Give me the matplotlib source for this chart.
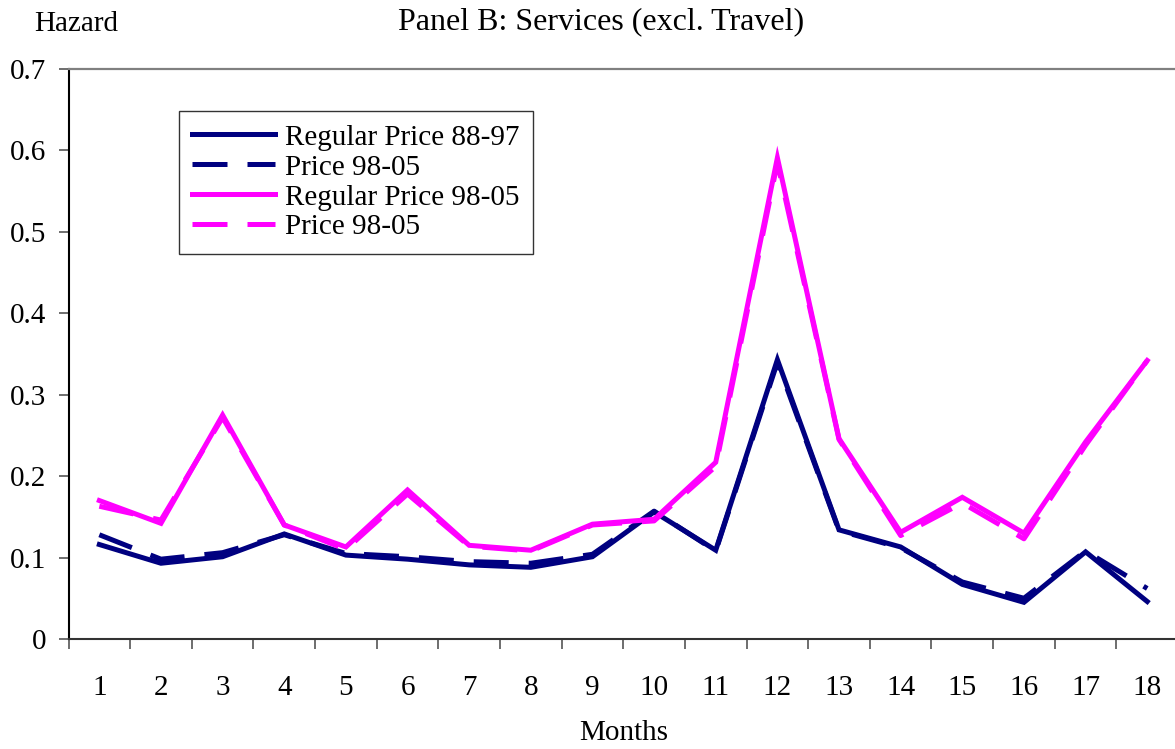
import matplotlib
matplotlib.use('Agg')
import matplotlib.pyplot as plt
from matplotlib.ticker import FixedLocator

plt.rcParams['font.family'] = ['Liberation Serif', 'DejaVu Serif']

months = list(range(1, 19))
month_labels = [str(m) for m in months]

# hazard readings
reg_88_97 = [0.116, 0.093, 0.101, 0.129, 0.103, 0.098, 0.091, 0.088, 0.101, 0.156,
             0.109, 0.343, 0.134, 0.113, 0.067, 0.045, 0.107, 0.046]
price_98_05_navy = [0.128, 0.098, 0.106, 0.128, 0.105, 0.101, 0.095, 0.093, 0.104, 0.157,
                    0.108, 0.340, 0.133, 0.112, 0.070, 0.050, 0.108, 0.062]
reg_98_05 = [0.170, 0.142, 0.275, 0.140, 0.113, 0.183, 0.115, 0.109, 0.141, 0.147,
             0.217, 0.591, 0.246, 0.131, 0.174, 0.130, 0.242, 0.342]
price_98_05_mag = [0.163, 0.146, 0.272, 0.140, 0.110, 0.178, 0.114, 0.108, 0.140, 0.145,
                   0.212, 0.585, 0.245, 0.127, 0.167, 0.123, 0.238, 0.342]

y_ticks = [0, 0.1, 0.2, 0.3, 0.4, 0.5, 0.6, 0.7]
y_labels = ['0', '0.1', '0.2', '0.3', '0.4', '0.5', '0.6', '0.7']

navy = '#000080'
magenta = '#FF00FF'

fig = plt.figure(figsize=(11.75, 7.49), dpi=100)
ax = fig.add_axes([0.0583, 0.1469, 0.9443, 0.761])

lw = 3.6
ax.plot(months, reg_88_97, color=navy, lw=lw, solid_joinstyle='miter', label='Regular Price 88-97')
ax.plot(months, price_98_05_navy, color=navy, lw=lw, dashes=(7, 4), label='Price 98-05')
ax.plot(months, reg_98_05, color=magenta, lw=lw, solid_joinstyle='miter', label='Regular Price 98-05')
ax.plot(months, price_98_05_mag, color=magenta, lw=lw, dashes=(7, 4), label='Price 98-05')

ax.set_xlim(0.5, 18.5)
ax.set_ylim(0, 0.7)

ax.set_xticks(months)
ax.set_xticklabels(month_labels)
ax.xaxis.set_minor_locator(FixedLocator([m - 0.5 for m in months] + [18.5]))
ax.tick_params(axis='x', which='major', length=0, pad=26, labelsize=21)
ax.tick_params(axis='x', which='minor', length=7, width=1.2, color='#555555', direction='out')

ax.set_yticks(y_ticks)
ax.set_yticklabels(y_labels)
ax.tick_params(axis='y', length=7, width=1.2, color='#555555', direction='out', pad=9, labelsize=21)

ax.spines['right'].set_visible(False)
ax.spines['top'].set_color('#808080')
ax.spines['top'].set_linewidth(1.6)
ax.spines['left'].set_color('black')
ax.spines['left'].set_linewidth(1.5)
ax.spines['bottom'].set_color('#333333')
ax.spines['bottom'].set_linewidth(1.5)

leg = ax.legend(loc='upper left', bbox_to_anchor=(0.0996, 0.926), borderaxespad=0,
                fontsize=21, frameon=True, fancybox=False, edgecolor='black',
                handlelength=2.85, handletextpad=0.35, labelspacing=0.12,
                borderpad=0.45)
leg.get_frame().set_linewidth(1.0)

fig.text(76 / 1175, 1 - 24 / 749, 'Hazard', ha='center', va='center', fontsize=21)
fig.text(601 / 1175, 1 - 22 / 749, 'Panel B: Services (excl. Travel)', ha='center', va='center', fontsize=23)
fig.text(624 / 1175, 1 - 733 / 749, 'Months', ha='center', va='center', fontsize=21)

fig.savefig('out.png', dpi=100)
